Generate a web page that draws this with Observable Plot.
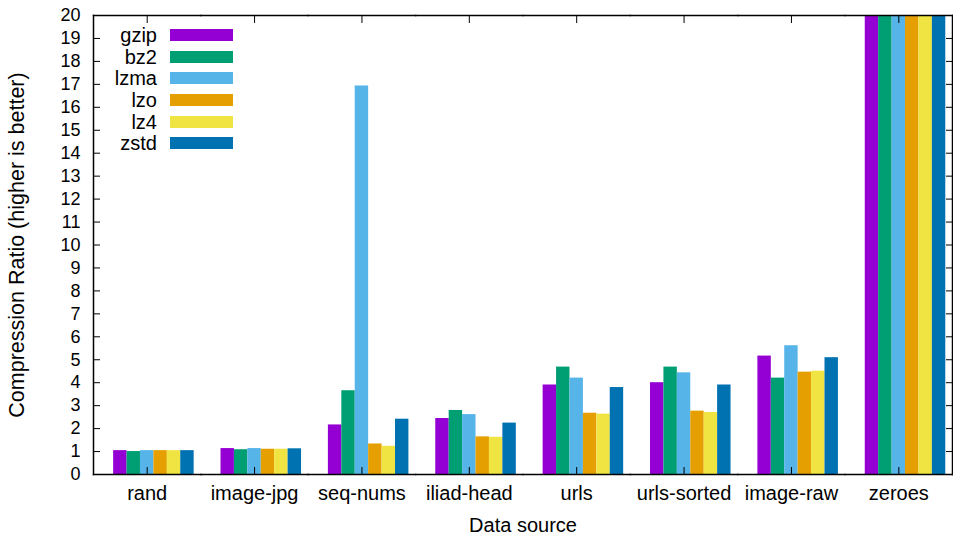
<!DOCTYPE html>
<html><head><meta charset="utf-8">
<script src="https://cdn.jsdelivr.net/npm/d3@7"></script>
<script src="https://cdn.jsdelivr.net/npm/@observablehq/plot@0.6"></script>
<style>
body{margin:0;background:#fff;font-family:"Liberation Sans",Arial,sans-serif;}
#wrap{position:relative;width:953px;height:537px;}
#legend{position:absolute;left:0;top:0;}
.row{position:absolute;left:0;height:20px;display:flex;align-items:center;}
.lab{width:157px;text-align:right;font-size:20px;color:#000;line-height:20px;}
.sw{margin-left:13px;width:63px;height:12px;}
</style></head><body><div id="wrap"><div id="chart"></div><div id="legend"></div></div>
<script>
const categories = ["rand","image-jpg","seq-nums","iliad-head","urls","urls-sorted","image-raw","zeroes"];
const series = ["gzip","bz2","lzma","lzo","lz4","zstd"];
const colors = ["#9400d3","#009e73","#56b4e9","#e69f00","#f0e442","#0072b2"];
const gzip = [1.04,1.13,2.16,2.44,3.90,4.00,5.16,1000];
const bz2  = [1.00,1.08,3.65,2.79,4.68,4.68,4.20,1000];
const lzma = [1.04,1.13,16.93,2.61,4.20,4.43,5.61,1000];
const lzo  = [1.04,1.10,1.33,1.64,2.67,2.76,4.46,1000];
const lz4  = [1.04,1.10,1.23,1.62,2.63,2.70,4.50,1000];
const zstd = [1.04,1.12,2.41,2.24,3.79,3.90,5.09,1000];
const yTicks = [0,1,2,3,4,5,6,7,8,9,10,11,12,13,14,15,16,17,18,19,20];
const yLabel = "Compression Ratio (higher is better)";
const xLabel = "Data source";

const valuesBySeries = {gzip, bz2, lzma, lzo, lz4, zstd};
const table = [];
categories.forEach((c, i) => series.forEach(s => table.push({source: c, algo: s, ratio: valuesBySeries[s][i]})));

const plot = Plot.plot({
  width: 953, height: 537,
  marginLeft: 93, marginRight: 1, marginTop: 15, marginBottom: 63,
  style: {fontFamily: "Liberation Sans, Arial, sans-serif", fontSize: "18px", color: "#000", background: "#fff"},
  fx: {domain: categories, padding: 0, round: false},
  x: {domain: series, paddingInner: 0, paddingOuter: 1, align: 0.75, round: false, axis: null},
  y: {domain: [0, 20]},
  color: {domain: series, range: colors},
  marks: [
    Plot.barY(table, {fx: "source", x: "algo", y: "ratio", fill: "algo", clip: true}),
    Plot.frame({anchor: "top", strokeWidth: 1.5}),
    Plot.frame({anchor: "bottom", strokeWidth: 1.5}),
    Plot.frame({anchor: "left", facetAnchor: "left", strokeWidth: 1.5}),
    Plot.frame({anchor: "right", facetAnchor: "right", strokeWidth: 1.5}),
    Plot.axisY({anchor: "left", ticks: yTicks, tickSize: -7, tickPadding: 20, fontSize: 18, label: null}),
    Plot.axisY({anchor: "right", ticks: yTicks, tickSize: -7, tickFormat: () => "", label: null}),
    Plot.text([yLabel], {text: d => d, frameAnchor: "left", textAnchor: "middle", rotate: -90, dx: -76, fontSize: 21.5, facetAnchor: "left"}),
    Plot.axisFx({anchor: "bottom", tickSize: -7, tickPadding: 18, fontSize: 20, label: xLabel, labelAnchor: "center", labelOffset: 57}),
    Plot.axisFx({anchor: "top", tickSize: -7, tickFormat: () => "", label: null})
  ]
});
document.getElementById("chart").append(plot);

const rowsY = [35, 56.7, 78.3, 100, 121.7, 143.3];
const legend = document.getElementById("legend");
series.forEach((s, i) => {
  const row = document.createElement("div");
  row.className = "row";
  row.style.top = (rowsY[i] - 10) + "px";
  row.innerHTML = `<span class="lab">${s}</span><span class="sw" style="background:${colors[i]}"></span>`;
  legend.append(row);
});
</script></body></html>
